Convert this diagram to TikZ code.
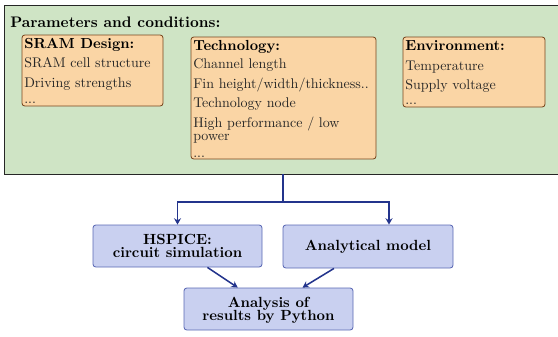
\documentclass[tikz,border=0pt]{standalone}
\usetikzlibrary{fit,arrows.meta}
\definecolor{gfill}{RGB}{207,228,197}
\definecolor{ofill}{RGB}{250,213,165}
\definecolor{odraw}{RGB}{120,70,30}
\definecolor{bfill}{RGB}{201,208,240}
\definecolor{bdraw}{RGB}{90,104,180}
\definecolor{arr}{RGB}{35,52,140}
\begin{document}
\begin{tikzpicture}[x=0.7143pt,y=-0.7143pt,
 greenbox/.style={draw=black!85, fill=gfill, line width=0.7pt, inner sep=0pt},
 orangebox/.style={draw=odraw, fill=ofill, rounded corners=2pt, line width=0.6pt, inner sep=0pt},
 bluebox/.style={draw=bdraw, fill=bfill, rounded corners=2pt, line width=0.6pt, inner sep=0pt},
 ttl/.style={anchor=base west, inner sep=0pt, font=\fontsize{10.4}{12}\bfseries\selectfont},
 itm/.style={anchor=base west, inner sep=0pt, text=black!85},
 blbl/.style={anchor=base, inner sep=0pt, font=\fontsize{10.5}{12}\bfseries\selectfont},
 conn/.style={draw=arr, line width=1.1pt},
 flow/.style={conn, -{Stealth[length=4.5pt,width=5pt]}}
]
\useasboundingbox (0,0) rectangle (558,336);
\begin{scope}
\clip (0,0) rectangle (558,336);
\node[greenbox, fit={(4,5)(562,174)}] (params) {};
\end{scope}
\node[ttl, font=\fontsize{10.9}{12}\bfseries\selectfont] (ptitle) at (10,27) {Parameters and conditions:};

% SRAM box
\node[orangebox, fit={(22,35)(163,106)}] (sram) {};
\node[ttl] (s0) at (24,48) {SRAM Design:};
\node[itm] (s1) at (24,67) {SRAM cell structure};
\node[itm] (s2) at (24,87) {Driving strengths};
\node[itm] (s3) at (24,103) {...};

% Technology box
\node[orangebox, fit={(191,37)(376,159)}] (tech) {};
\node[ttl] (t0) at (193,50) {Technology:};
\node[itm] (t1) at (193,68) {Channel length};
\node[itm] (t2) at (193,88) {Fin height/width/thickness..};
\node[itm] (t3) at (193,107) {Technology node};
\node[itm] (t4) at (193,127) {High performance / low};
\node[itm] (t5) at (193,140) {power};
\node[itm] (t6) at (193,157) {...};

% Environment box
\node[orangebox, fit={(403,37)(545,107)}] (env) {};
\node[ttl] (e0) at (405,50) {Environment:};
\node[itm] (e1) at (405,70) {Temperature};
\node[itm] (e2) at (405,89) {Supply voltage};
\node[itm] (e3) at (405,104) {...};

% lower boxes
\node[bluebox, fit={(93,225)(262,267)}] (hspice) {};
\node[blbl] (h0) at (177.5,244) {HSPICE:};
\node[blbl] (h1) at (177.5,257.5) {circuit simulation};

\node[bluebox, fit={(283,225)(453,268)}] (anal) {};
\node[blbl] (a0) at (368,250) {Analytical model};

\node[bluebox, fit={(184,288)(353,330)}] (res) {};
\node[blbl] (r0) at (268.5,307) {Analysis of};
\node[blbl] (r1) at (268.5,320.5) {results by Python};

% connectors
\coordinate (split) at (283,202);
\draw[conn] (params.south) -- (split);
\draw[flow] (split) -| (hspice.north);
\draw[flow] (split) -| ([xshift=15pt]anal.north);
\draw[flow] ([xshift=21.4pt]hspice.south) -- ([xshift=-22pt]res.north);
\draw[flow] ([xshift=-24.3pt]anal.south) -- ([xshift=24.3pt]res.north);
\end{tikzpicture}
\end{document}
